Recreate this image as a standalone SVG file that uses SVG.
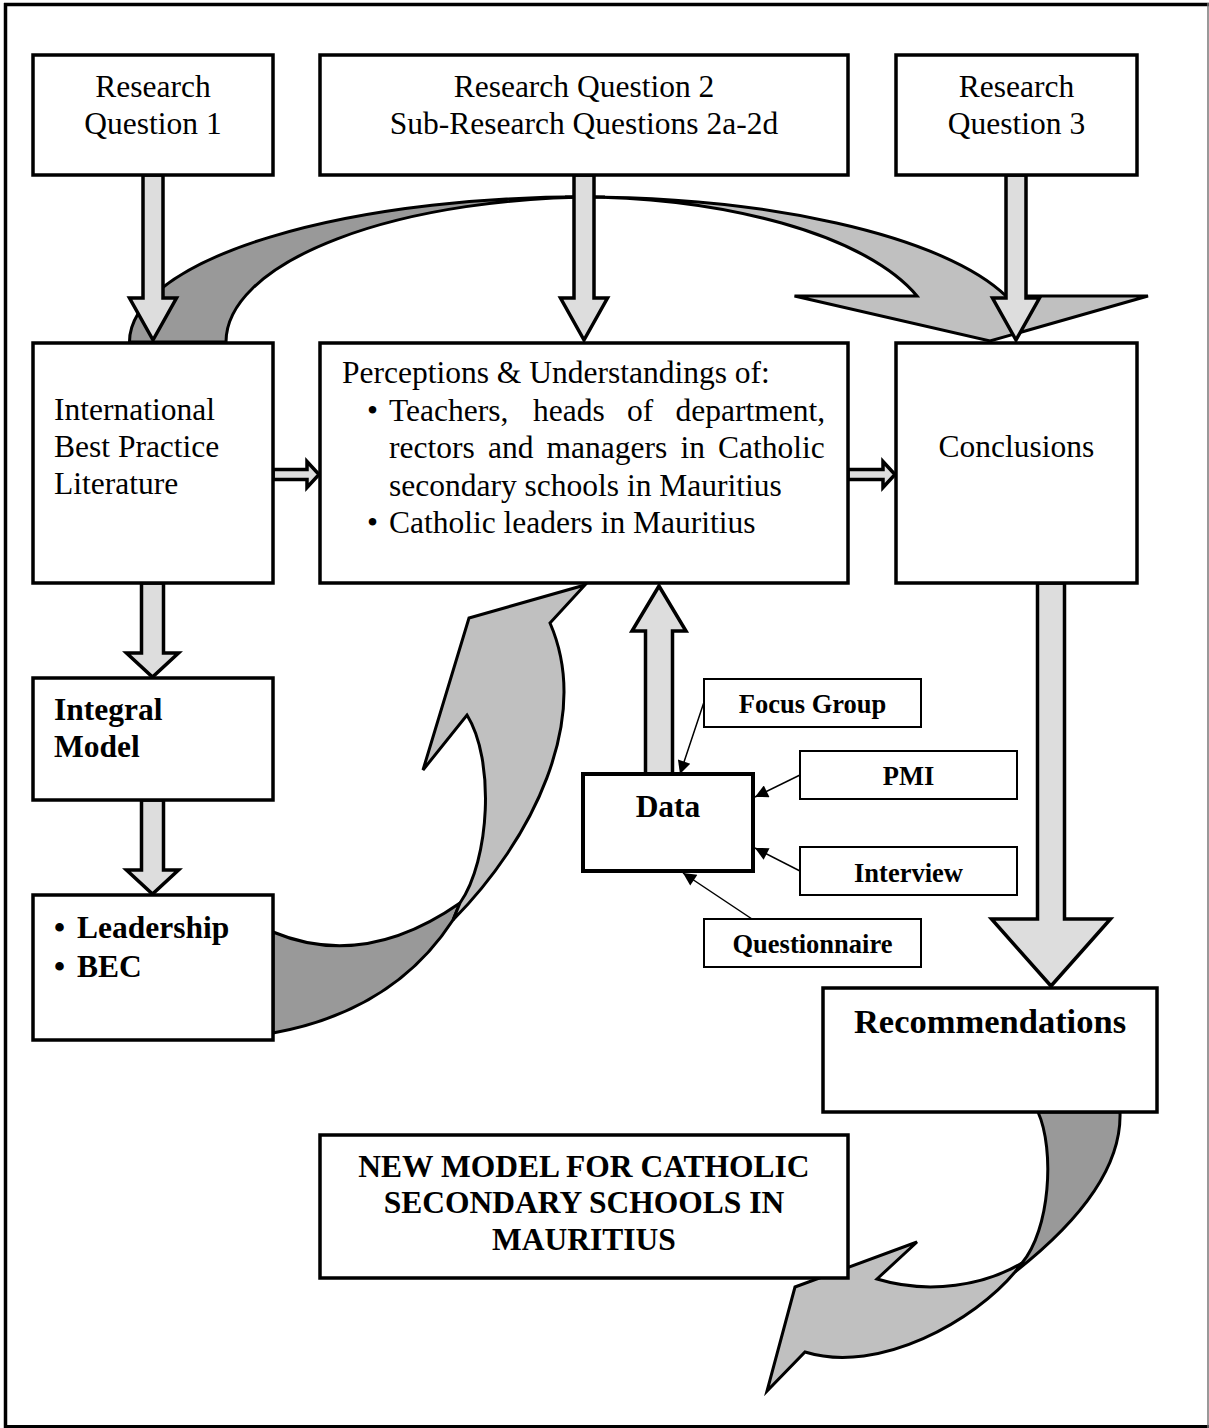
<svg xmlns="http://www.w3.org/2000/svg" width="1209" height="1428" viewBox="0 0 1209 1428">
  <defs>
    <marker id="tri" viewBox="0 0 10 10" refX="10" refY="5" markerWidth="16" markerHeight="13" markerUnits="userSpaceOnUse" orient="auto">
      <path d="M0,0 L10,5 L0,10 Z" fill="#000"/>
    </marker>
    <style>
      .box{fill:#fff;stroke:#000;stroke-width:3.5}
      .small{fill:#fff;stroke:#000;stroke-width:2}
      .t{font-family:"Liberation Serif","Times New Roman",serif;font-size:31.5px;fill:#000}
      .b{font-weight:bold}
      .s{font-size:26.5px}
      .m{text-anchor:middle}
      .blk{fill:#ddd;stroke:#000;stroke-width:3.5;stroke-linejoin:miter}
      .cl{fill:#c0c0c0;stroke:#000;stroke-width:3;stroke-linejoin:miter}
      .cd{fill:#999;stroke:#000;stroke-width:3;stroke-linejoin:miter}
      .conn{fill:none;stroke:#000;stroke-width:1.5;marker-end:url(#tri)}
    </style>
  </defs>

  <rect width="1209" height="1428" fill="#fff"/>

  <!-- page frame -->
  <g id="frame" fill="none">
    <line x1="4" y1="4.5" x2="1209" y2="4.5" stroke="#000" stroke-width="3.5"/>
    <line x1="5.5" y1="3" x2="5.5" y2="1428" stroke="#000" stroke-width="3.5"/>
    <line x1="4" y1="1426.5" x2="1209" y2="1426.5" stroke="#000" stroke-width="3"/>
    <line x1="1208" y1="3" x2="1208" y2="1428" stroke="#777" stroke-width="1.5"/>
  </g>

  <g id="connectors">
    <!-- curved arrow over the top: literature to conclusions -->
    <path class="cd" d="M129.5,342 A455,145 0 0 1 605,197 A374,145 0 0 0 226,342 Z"/>
    <path class="cl" d="M565,197 A450,145 0 0 1 1006,296 L1148,296 L990,341 L794.5,296 L917,296 A360,145 0 0 0 565,197 Z"/>

    <!-- curved arrow: leadership/BEC up to perceptions -->
    <path class="cd" d="M273,932 Q364,970 460,903 L453,920 Q394,1011 273,1033 Z"/>
    <path class="cl" d="M453,920 C532,840 592,720 550,623 L585,585 L469,618 L423,770 L467,715 C495,760 490,860 460,903 Z"/>

    <!-- curved arrow: recommendations to new model -->
    <path class="cd" d="M1038,1112 C1055,1150 1050,1230 1022,1263 L1015,1272 C1075,1225 1122,1170 1120,1112 Z"/>
    <path class="cl" d="M1015,1272 C975,1320 880,1375 805,1352 L767,1391 L795,1287 L917,1242 L877,1279 C930,1295 985,1285 1022,1263 Z"/>

    <!-- block arrows from the research questions -->
    <polygon class="blk" points="143,175 143,298 129.5,298 153,340 176.5,298 163,298 163,175"/>
    <polygon class="blk" points="574,175 574,298 560.5,298 584,340 607.5,298 594,298 594,175"/>
    <polygon class="blk" points="1006,175 1006,298 992.5,298 1016,340 1039.5,298 1026,298 1026,175"/>

    <!-- left column -->
    <polygon class="blk" points="141.5,583 141.5,653 126.5,653 152.5,677 178.5,653 163.5,653 163.5,583"/>
    <polygon class="blk" points="141.5,800 141.5,870 126.5,870 152.5,894 178.5,870 163.5,870 163.5,800"/>

    <!-- horizontal links -->
    <polygon class="blk" points="273,469.5 307,469.5 307,461.5 319,474.5 307,487.5 307,479.5 273,479.5"/>
    <polygon class="blk" points="848,469.5 883,469.5 883,461.5 895,474.5 883,487.5 883,479.5 848,479.5"/>

    <!-- conclusions to recommendations -->
    <polygon class="blk" points="1037.5,583 1037.5,919 991.5,919 1051,986 1110.5,919 1064.5,919 1064.5,583"/>

    <!-- data up to perceptions -->
    <polygon class="blk" points="645.5,774 645.5,631 632,631 659,586 686,631 672.5,631 672.5,774"/>

    <!-- data sources -->
    <line class="conn" x1="704" y1="702" x2="680" y2="774"/>
    <line class="conn" x1="800" y1="775" x2="755" y2="797"/>
    <line class="conn" x1="800" y1="871" x2="755" y2="848"/>
    <line class="conn" x1="752" y1="919" x2="683" y2="873"/>
  </g>

  <g id="rq1">
    <rect class="box" x="33" y="55" width="240" height="120"/>
    <text class="t m" x="153" y="97">Research</text>
    <text class="t m" x="153" y="134">Question 1</text>
  </g>
  <g id="rq2">
    <rect class="box" x="320" y="55" width="528" height="120"/>
    <text class="t m" x="584" y="97">Research Question 2</text>
    <text class="t m" x="584" y="134">Sub-Research Questions 2a-2d</text>
  </g>
  <g id="rq3">
    <rect class="box" x="896" y="55" width="241" height="120"/>
    <text class="t m" x="1016.5" y="97">Research</text>
    <text class="t m" x="1016.5" y="134">Question 3</text>
  </g>

  <g id="literature">
    <rect class="box" x="33" y="343" width="240" height="240"/>
    <text class="t" x="54" y="420">International</text>
    <text class="t" x="54" y="457">Best Practice</text>
    <text class="t" x="54" y="494">Literature</text>
  </g>

  <g id="perceptions">
    <rect class="box" x="320" y="343" width="528" height="240"/>
    <text class="t" x="342" y="383">Perceptions &amp; Understandings of:</text>
    <text class="t" x="367" y="421">•</text>
    <text class="t" y="421"><tspan x="389">Teachers,</tspan><tspan x="533">heads</tspan><tspan x="627">of</tspan><tspan x="675.5">department,</tspan></text>
    <text class="t" y="458"><tspan x="389">rectors</tspan><tspan x="488">and</tspan><tspan x="546.5">managers</tspan><tspan x="680.5">in</tspan><tspan x="718">Catholic</tspan></text>
    <text class="t" x="389" y="496">secondary schools in Mauritius</text>
    <text class="t" x="367" y="533">•</text>
    <text class="t" x="389" y="533">Catholic leaders in Mauritius</text>
  </g>

  <g id="conclusions">
    <rect class="box" x="896" y="343" width="241" height="240"/>
    <text class="t m" x="1016.5" y="457">Conclusions</text>
  </g>

  <g id="integral-model">
    <rect class="box" x="33" y="678" width="240" height="122"/>
    <text class="t b" x="54" y="720">Integral</text>
    <text class="t b" x="54" y="757">Model</text>
  </g>

  <g id="leadership-bec">
    <rect class="box" x="33" y="895" width="240" height="145"/>
    <text class="t b" x="54" y="938">•</text>
    <text class="t b" x="77" y="938">Leadership</text>
    <text class="t b" x="54" y="977">•</text>
    <text class="t b" x="77" y="977">BEC</text>
  </g>

  <g id="data">
    <rect x="583" y="774" width="170" height="97" fill="#fff" stroke="#000" stroke-width="4"/>
    <text class="t b m" x="668" y="817">Data</text>
  </g>

  <g id="focus-group">
    <rect class="small" x="704" y="679" width="217" height="48"/>
    <text class="t b s m" x="812.5" y="713">Focus Group</text>
  </g>
  <g id="pmi">
    <rect class="small" x="800" y="751" width="217" height="48"/>
    <text class="t b s m" x="908.5" y="785">PMI</text>
  </g>
  <g id="interview">
    <rect class="small" x="800" y="847" width="217" height="48"/>
    <text class="t b s m" x="908.5" y="882">Interview</text>
  </g>
  <g id="questionnaire">
    <rect class="small" x="704" y="919" width="217" height="48"/>
    <text class="t b s m" x="812.5" y="953">Questionnaire</text>
  </g>

  <g id="recommendations">
    <rect class="box" x="823" y="988" width="334" height="124"/>
    <text class="t b m" x="990" y="1033" style="font-size:34.5px">Recommendations</text>
  </g>

  <g id="new-model">
    <rect class="box" x="320" y="1135" width="528" height="143"/>
    <text class="t b m" x="584" y="1177">NEW MODEL FOR CATHOLIC</text>
    <text class="t b m" x="584" y="1213">SECONDARY SCHOOLS IN</text>
    <text class="t b m" x="584" y="1250">MAURITIUS</text>
  </g>
</svg>
